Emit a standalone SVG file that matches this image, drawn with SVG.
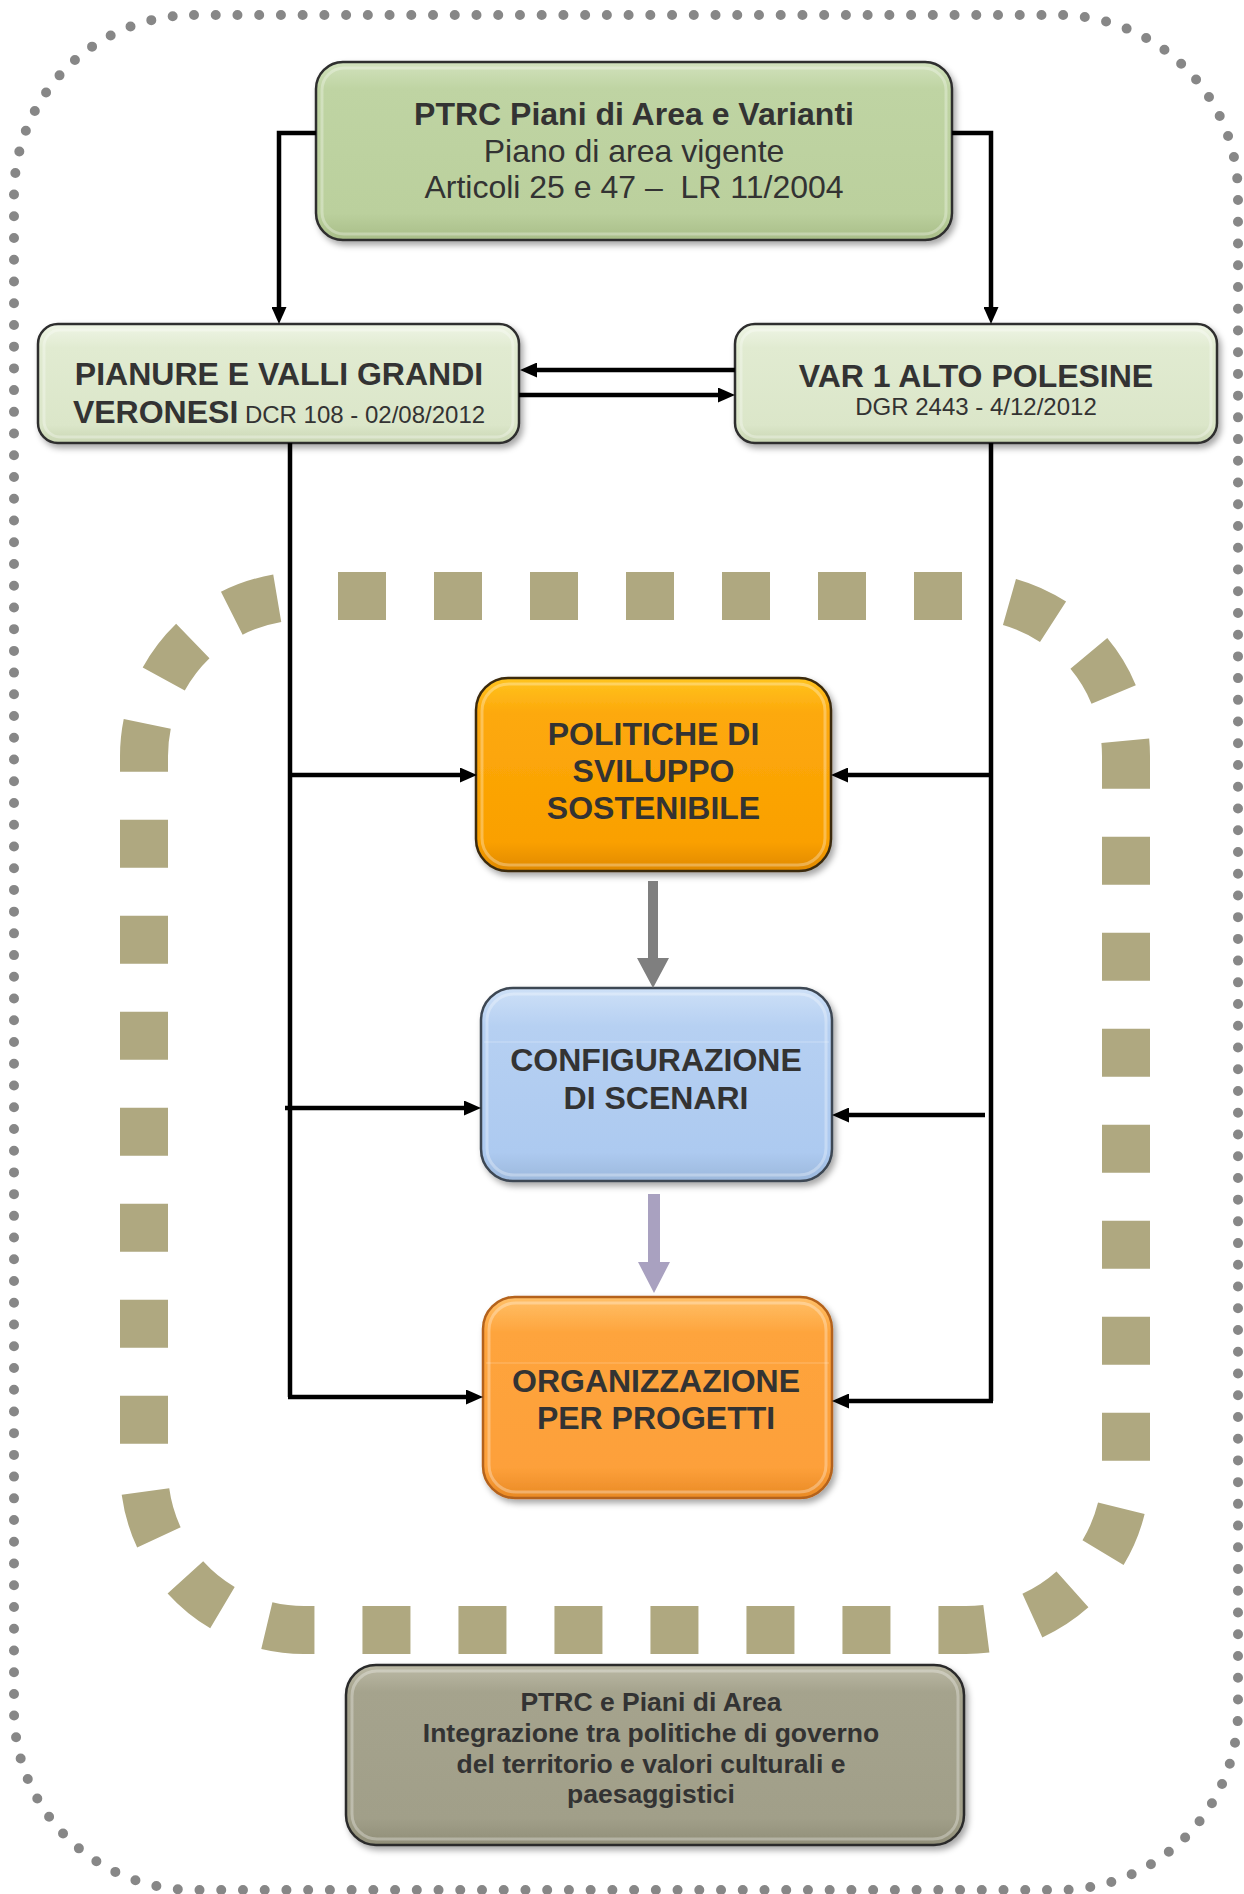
<svg xmlns="http://www.w3.org/2000/svg" width="1244" height="1894" viewBox="0 0 1244 1894">
<style>
.t{font-family:"Liberation Sans",Arial,sans-serif;fill:#333;text-anchor:middle}
.b{font-weight:bold}
.con{fill:none;stroke:#000;stroke-width:4.5}
.arr{marker-end:url(#ah)}
.hl{fill:none;stroke:#fff;stroke-opacity:0.3;stroke-width:3}
</style>
<defs>
<marker id="ah" markerWidth="17" markerHeight="15" refX="9" refY="7.5" orient="auto" markerUnits="userSpaceOnUse"><path d="M0,0 L17,7.5 L0,15 z" fill="#000"/></marker>
<filter id="sh" x="-10%" y="-10%" width="125%" height="135%"><feDropShadow dx="3" dy="4" stdDeviation="3" flood-color="#000" flood-opacity="0.35"/></filter>
<linearGradient id="gPtrc" x1="0" y1="0" x2="0" y2="1"><stop offset="0" stop-color="#d2e2bd"/><stop offset="0.15" stop-color="#bfd4a3"/><stop offset="0.85" stop-color="#bbd09d"/><stop offset="1" stop-color="#a8bd88"/></linearGradient>
<linearGradient id="gLight" x1="0" y1="0" x2="0" y2="1"><stop offset="0" stop-color="#eff5e6"/><stop offset="0.2" stop-color="#e1ebd1"/><stop offset="0.85" stop-color="#dbe6c9"/><stop offset="1" stop-color="#c9d6b3"/></linearGradient>
<linearGradient id="gPol" x1="0" y1="0" x2="0" y2="1"><stop offset="0" stop-color="#ffc420"/><stop offset="0.18" stop-color="#fda90c"/><stop offset="0.85" stop-color="#faa000"/><stop offset="1" stop-color="#e08900"/></linearGradient>
<linearGradient id="gConf" x1="0" y1="0" x2="0" y2="1"><stop offset="0" stop-color="#cde0f7"/><stop offset="0.2" stop-color="#b6d0f2"/><stop offset="0.85" stop-color="#adcaf0"/><stop offset="1" stop-color="#9cb8dc"/></linearGradient>
<linearGradient id="gOrg" x1="0" y1="0" x2="0" y2="1"><stop offset="0" stop-color="#ffc068"/><stop offset="0.18" stop-color="#fea43c"/><stop offset="0.85" stop-color="#fda03a"/><stop offset="1" stop-color="#e98a25"/></linearGradient>
<linearGradient id="gGray" x1="0" y1="0" x2="0" y2="1"><stop offset="0" stop-color="#bcbaa6"/><stop offset="0.15" stop-color="#a5a38d"/><stop offset="0.85" stop-color="#a19f89"/><stop offset="1" stop-color="#908e78"/></linearGradient>
</defs>

<g id="outer-border">
<rect x="14" y="15" width="1224" height="1875" rx="180" ry="180" fill="none" stroke="#878787" stroke-width="10" stroke-linecap="round" stroke-dasharray="0 21.73"/>
</g>

<g id="inner-border">
<path d="M304,596 H966 A160,160 0 0 1 1126,756 V1470 A160,160 0 0 1 966,1630 H304 A160,160 0 0 1 144,1470 V756 A160,160 0 0 1 304,596 Z" fill="none" stroke="#afa880" stroke-width="48" stroke-dasharray="48 48" stroke-dashoffset="62"/>
</g>

<g id="node-ptrc">
<rect x="316" y="62" width="636" height="178" rx="27" fill="url(#gPtrc)" stroke="#2e2e2e" stroke-width="2.5" filter="url(#sh)"/>
<rect x="322" y="68" width="624" height="166" rx="22" class="hl"/>
<text class="t b" x="634" y="125" font-size="32">PTRC Piani di Area e Varianti</text>
<text class="t" x="634" y="162" font-size="32">Piano di area vigente</text>
<text class="t" x="634" y="198" font-size="32" xml:space="preserve">Articoli 25 e 47 –  LR 11/2004</text>
</g>

<g id="node-pianure">
<rect x="38" y="324" width="481" height="119" rx="20" fill="url(#gLight)" stroke="#2e2e2e" stroke-width="2.5" filter="url(#sh)"/>
<rect x="44" y="330" width="469" height="107" rx="16" class="hl"/>
<text class="t b" x="279" y="385" font-size="32">PIANURE E VALLI GRANDI</text>
<text class="t" x="279" y="423"><tspan class="b" font-size="32">VERONESI</tspan><tspan font-size="24" xml:space="preserve"> DCR 108 - 02/08/2012</tspan></text>
</g>

<g id="node-var1">
<rect x="735" y="324" width="482" height="119" rx="20" fill="url(#gLight)" stroke="#2e2e2e" stroke-width="2.5" filter="url(#sh)"/>
<rect x="741" y="330" width="470" height="107" rx="16" class="hl"/>
<text class="t b" x="976" y="387" font-size="32">VAR 1 ALTO POLESINE</text>
<text class="t" x="976" y="415" font-size="24">DGR 2443 - 4/12/2012</text>
</g>

<g id="node-politiche">
<rect x="476" y="678" width="355" height="193" rx="32" fill="url(#gPol)" stroke="#3a2a10" stroke-width="2.5" filter="url(#sh)"/>
<rect x="482" y="684" width="343" height="181" rx="27" class="hl"/>
<text class="t b" x="653.5" y="745" font-size="32">POLITICHE DI</text>
<text class="t b" x="653.5" y="782" font-size="32">SVILUPPO</text>
<text class="t b" x="653.5" y="819" font-size="32">SOSTENIBILE</text>
</g>

<g id="node-configurazione">
<rect x="481" y="988" width="351" height="193" rx="32" fill="url(#gConf)" stroke="#3c4652" stroke-width="2.5" filter="url(#sh)"/>
<rect x="487" y="994" width="339" height="181" rx="27" class="hl"/>
<line x1="484" y1="1042" x2="829" y2="1042" stroke="#fff" stroke-opacity="0.3" stroke-width="1"/>
<text class="t b" x="656" y="1071" font-size="32">CONFIGURAZIONE</text>
<text class="t b" x="656" y="1108.5" font-size="32">DI SCENARI</text>
</g>

<g id="node-organizzazione">
<rect x="483" y="1297" width="349" height="201" rx="32" fill="url(#gOrg)" stroke="#b4621a" stroke-width="2.5" filter="url(#sh)"/>
<rect x="489" y="1303" width="337" height="189" rx="27" class="hl"/>
<line x1="486" y1="1363" x2="829" y2="1363" stroke="#fff" stroke-opacity="0.25" stroke-width="1"/>
<text class="t b" x="656" y="1392" font-size="32">ORGANIZZAZIONE</text>
<text class="t b" x="656" y="1429" font-size="32">PER PROGETTI</text>
</g>

<g id="node-ptrc-aree">
<rect x="346" y="1665" width="618" height="180" rx="30" fill="url(#gGray)" stroke="#2a2a2a" stroke-width="2.5" filter="url(#sh)"/>
<rect x="352" y="1671" width="606" height="168" rx="25" class="hl"/>
<text class="t b" x="651" y="1711" font-size="26.5">PTRC e Piani di Area</text>
<text class="t b" x="651" y="1742" font-size="26.5">Integrazione tra politiche di governo</text>
<text class="t b" x="651" y="1773" font-size="26.5">del territorio e valori culturali e</text>
<text class="t b" x="651" y="1803" font-size="26.5">paesaggistici</text>
</g>

<g id="connectors">
<path class="con arr" d="M316,133 H279 V316"/>
<path class="con arr" d="M952,133 H991 V316"/>
<path class="con arr" d="M735,370 H528"/>
<path class="con arr" d="M519,395 H727"/>
<path class="con" d="M290,443 V1397"/>
<path class="con arr" d="M288,1397 H475"/>
<path class="con arr" d="M290,775 H469"/>
<path class="con arr" d="M285,1108 H473"/>
<path class="con" d="M991,443 V1401"/>
<path class="con arr" d="M993,1401 H840"/>
<path class="con arr" d="M991,775 H839"/>
<path class="con arr" d="M985,1115 H840"/>
<path d="M648,881 H658 V958 H669 L653,988 L637,958 H648 Z" fill="#7f7f7f"/>
<path d="M648,1194 H660 V1262 H670 L654,1293 L638,1262 H648 Z" fill="#a9a1c0"/>
</g>
</svg>
